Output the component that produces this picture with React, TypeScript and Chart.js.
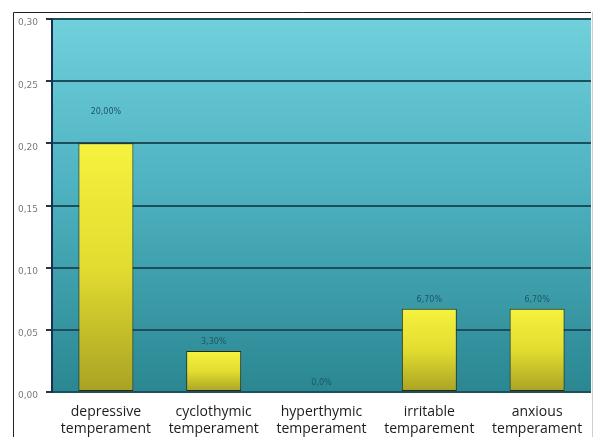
import React, { useEffect, useRef } from "react";
import { Chart, registerables } from "chart.js";

Chart.register(...registerables);

const categories: string[][] = [
  ["depressive", "temperament"],
  ["cyclothymic", "temperament"],
  ["hyperthymic", "temperament"],
  ["irritable", "temparement"],
  ["anxious", "temperament"],
];
const values: number[] = [0.2, 0.033, 0, 0.067, 0.067];
const valueLabels: string[] = ["20,00%", "3,30%", "0,0%", "6,70%", "6,70%"];
const yTicks: number[] = [0, 0.05, 0.1, 0.15, 0.2, 0.25, 0.3];

const framePlugin = {
  id: "frame",
  beforeDraw(chart: any) {
    const { ctx, chartArea } = chart;
    if (!chartArea) return;
    ctx.save();
    // outer frame
    ctx.strokeStyle = "#222";
    ctx.lineWidth = 1;
    ctx.beginPath();
    ctx.moveTo(13.5, 437);
    ctx.lineTo(13.5, 12.5);
    ctx.lineTo(591, 12.5);
    ctx.stroke();
    ctx.strokeStyle = "#cfcfcf";
    ctx.beginPath();
    ctx.moveTo(592.5, 12);
    ctx.lineTo(592.5, 437);
    ctx.stroke();
    // plot background gradient
    const g = ctx.createLinearGradient(0, chartArea.top, 0, chartArea.bottom);
    g.addColorStop(0, "#70d0dc");
    g.addColorStop(0.45, "#4fb2c0");
    g.addColorStop(1, "#2a8792");
    ctx.fillStyle = g;
    ctx.fillRect(chartArea.left, chartArea.top, chartArea.right - chartArea.left, chartArea.bottom - chartArea.top);
    ctx.restore();
  },
};

const valueLabelPlugin = {
  id: "valueLabels",
  afterDatasetsDraw(chart: any) {
    const { ctx } = chart;
    const meta = chart.getDatasetMeta(0);
    ctx.save();
    ctx.font = "8px 'DejaVu Sans'";
    ctx.fillStyle = "#1d5666";
    ctx.textAlign = "center";
    ctx.textBaseline = "middle";
    meta.data.forEach((bar: any, i: number) => {
      const raise = i === 0 ? 31 : 9;
      ctx.fillText(valueLabels[i], bar.x, bar.y - raise);
    });
    ctx.restore();
  },
};

export default function App() {
  const ref = useRef<HTMLCanvasElement | null>(null);
  useEffect(() => {
    document.body.style.margin = "0";
    if (!ref.current) return;
    const chart = new Chart(ref.current, {
      type: "bar",
      data: {
        labels: categories,
        datasets: [
          {
            data: values,
            backgroundColor: (c: any) => {
              const ch = c.chart;
              const area = ch.chartArea;
              if (!area || c.dataIndex === undefined) return "#e8e430";
              const y = ch.scales.y;
              const top = y.getPixelForValue(values[c.dataIndex]);
              const base = y.getPixelForValue(0);
              if (base - top < 1) return "#e8e430";
              const g = ch.ctx.createLinearGradient(0, top, 0, base);
              g.addColorStop(0, "#f6f23e");
              g.addColorStop(0.5, "#e2dc30");
              g.addColorStop(1, "#a8a224");
              return g;
            },
            borderColor: "#2b2a10",
            borderWidth: 1,
            borderSkipped: false,
            barPercentage: 0.6,
            categoryPercentage: 0.85,
          },
        ],
      },
      options: {
        animation: false,
        responsive: false,
        maintainAspectRatio: false,
        layout: { padding: { left: 14, top: 19, right: 2, bottom: 0 } },
        plugins: { legend: { display: false }, tooltip: { enabled: false } },
        scales: {
          x: {
            grid: { display: false },
            border: { display: false },
            ticks: {
              color: "#1c1c1c",
              font: { family: "'Open Sans'", size: 14, lineHeight: 1.25 },
              padding: 3,
              maxRotation: 0,
              autoSkip: false,
            },
            afterFit(s: any) {
              s.height = 45;
            },
          },
          y: {
            min: 0,
            max: 0.3,
            afterBuildTicks(s: any) {
              s.ticks = yTicks.map((v) => ({ value: v }));
            },
            afterFit(s: any) {
              s.width = 38;
            },
            grid: {
              color: "#1b4f5c",
              lineWidth: 2,
              tickLength: 6,
              tickColor: "#1b3a4c",
            },
            border: { display: true, color: "#1b3050", width: 2 },
            ticks: {
              color: "#7a7a7a",
              font: { family: "'DejaVu Sans'", size: 9 },
              padding: 8,
              labelOffset: 4,
              callback: (v: any) => Number(v).toFixed(2).replace(".", ","),
            },
          },
        },
      },
      plugins: [framePlugin, valueLabelPlugin],
    });
    return () => chart.destroy();
  }, []);
  return (
    <div style={{ position: "absolute", left: 0, top: 0, width: 593, height: 437, background: "#fff" }}>
      <canvas ref={ref} width={593} height={437} style={{ width: 593, height: 437 }} />
    </div>
  );
}
